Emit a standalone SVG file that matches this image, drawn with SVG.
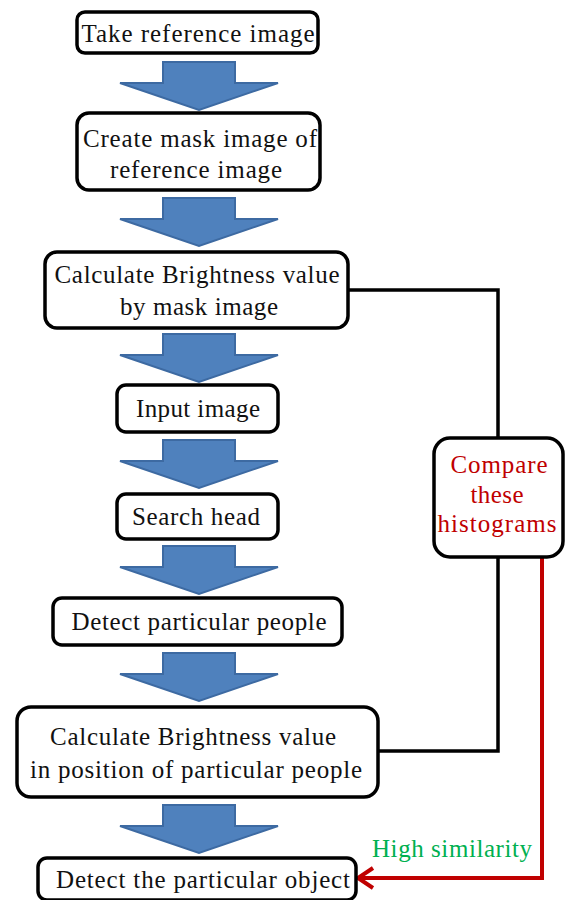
<svg xmlns="http://www.w3.org/2000/svg" width="568" height="900" viewBox="0 0 568 900">
<style>
.box{fill:#fff;stroke:#000;stroke-width:3.5}
.t{font-family:"Liberation Serif","Times New Roman",serif;font-size:25px;fill:#111;text-anchor:middle}
.r{fill:#c00000}
.g{fill:#00b050}
.arrow{fill:#4f81bd;stroke:#3d6aa2;stroke-width:2;stroke-linejoin:miter}
.conn{fill:none;stroke:#000;stroke-width:3.5}
.red{fill:none;stroke:#c00000;stroke-width:4}
</style>
<defs>
<path id="blk" class="arrow" d="M-36,0 H36 V21 H79 L0,48 L-79,21 H-36 Z"/>
</defs>
<rect width="568" height="900" fill="#fff"/>
<g id="arrows">
<use href="#blk" x="199" y="62"/>
<use href="#blk" x="199" y="198"/>
<use href="#blk" x="199" y="334"/>
<use href="#blk" x="199" y="440"/>
<use href="#blk" x="199" y="546"/>
<use href="#blk" x="199" y="653"/>
<use href="#blk" x="199" y="805"/>
</g>
<g id="connectors">
<polyline class="conn" points="348,290 498,290 498,438"/>
<polyline class="conn" points="498,557 498,751 378,751"/>
<polyline class="red" points="542,557 542,878 358,878"/>
<polyline class="red" points="373,868 358,878 373,888"/>
<text class="t g" x="452" y="857" textLength="160" lengthAdjust="spacing">High similarity</text>
</g>
<g id="n1">
<rect class="box" x="77" y="12" width="241" height="41" rx="8"/>
<text class="t" x="198" y="42" textLength="233" lengthAdjust="spacing">Take reference image</text>
</g>
<g id="n2">
<rect class="box" x="77" y="113" width="243" height="77" rx="12"/>
<text class="t" x="200" y="147" textLength="234" lengthAdjust="spacing">Create mask image of</text>
<text class="t" x="196" y="178" textLength="172" lengthAdjust="spacing">reference image</text>
</g>
<g id="n3">
<rect class="box" x="45" y="252" width="303" height="76" rx="12"/>
<text class="t" x="197" y="283" textLength="285" lengthAdjust="spacing">Calculate Brightness value</text>
<text class="t" x="199" y="315" textLength="158" lengthAdjust="spacing">by mask image</text>
</g>
<g id="n4">
<rect class="box" x="117" y="385" width="161" height="47" rx="9"/>
<text class="t" x="198" y="417" textLength="124" lengthAdjust="spacing">Input image</text>
</g>
<g id="n5">
<rect class="box" x="117" y="494" width="161" height="45" rx="9"/>
<text class="t" x="196" y="525" textLength="128" lengthAdjust="spacing">Search head</text>
</g>
<g id="n6">
<rect class="box" x="53" y="598" width="289" height="47" rx="9"/>
<text class="t" x="199" y="630" textLength="255" lengthAdjust="spacing">Detect particular people</text>
</g>
<g id="n7">
<rect class="box" x="17" y="707" width="361" height="90" rx="14"/>
<text class="t" x="193" y="745" textLength="286" lengthAdjust="spacing">Calculate Brightness value</text>
<text class="t" x="196" y="778" textLength="332" lengthAdjust="spacing">in position of particular people</text>
</g>
<g id="n8">
<rect class="box" x="38" y="858" width="318" height="42" rx="9"/>
<text class="t" x="203" y="888" textLength="294" lengthAdjust="spacing">Detect the particular object</text>
</g>
<g id="n9">
<rect class="box" x="434" y="438" width="129" height="119" rx="16"/>
<text class="t r" x="499" y="473" textLength="97" lengthAdjust="spacing">Compare</text>
<text class="t r" x="497" y="503" textLength="53" lengthAdjust="spacing">these</text>
<text class="t r" x="497" y="532" textLength="119" lengthAdjust="spacing">histograms</text>
</g>
</svg>
